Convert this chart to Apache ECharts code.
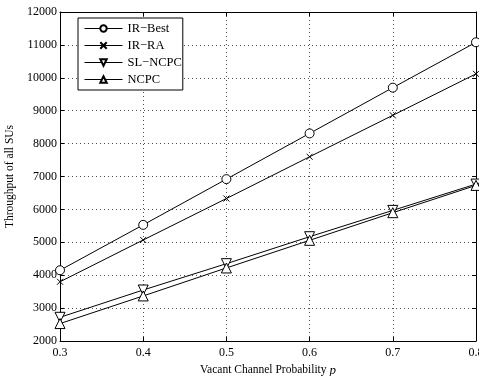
<!DOCTYPE html>
<html>
<head>
<meta charset="utf-8">
<script src="https://cdn.jsdelivr.net/npm/echarts@6/dist/echarts.min.js"></script>
<style>
  html, body { margin: 0; padding: 0; background: #fff; }
  #chart { width: 479px; height: 376px; }
</style>
</head>
<body>
<div id="chart"></div>
<script>
const probs = [0.3, 0.4, 0.5, 0.6, 0.7, 0.8];
const irBest = [4150, 5530, 6920, 8310, 9700, 11080];
const irRa = [3800, 5070, 6330, 7600, 8860, 10120];
const slNcpc = [2720, 3550, 4350, 5170, 5970, 6770];
const ncpc = [2530, 3370, 4220, 5060, 5900, 6730];

const chart = echarts.init(document.getElementById("chart"));
const font = "Liberation Serif";

const pairs = (ys) => probs.map((p, i) => [p, ys[i]]);

function makeSeries(name, ys, symbol, size) {
  return {
    name: name,
    type: "line",
    data: pairs(ys),
    symbol: symbol,
    symbolSize: size,
    showSymbol: true,
    clip: false,
    lineStyle: { color: "#000", width: 1 },
    itemStyle: { color: "#fff", borderColor: "#000", borderWidth: 1 },
    emphasis: { disabled: true },
    z: 3,
  };
}

const axisCommon = {
  type: "value",
  axisLine: { show: true, onZero: false, lineStyle: { color: "#000", width: 1 } },
  axisTick: { show: true, inside: true, length: 4, lineStyle: { color: "#000" } },
};

const gridDots = { show: true, lineStyle: { color: "#000", type: [1, 3], width: 1, opacity: 0.7 } };

const option = {
  animation: false,
  grid: { left: 60, right: 3, top: 12, bottom: 35, outerBoundsMode: "none", containLabel: false },
  legend: {
    orient: "vertical",
    left: 78,
    top: 18,
    itemWidth: 38,
    itemHeight: 8,
    itemGap: 4,
    padding: [4, 1, 4, 6],
    borderColor: "#000",
    borderWidth: 1,
    backgroundColor: "#fff",
    lineStyle: { width: 1 },
    textStyle: { fontFamily: font, fontSize: 12.5, color: "#000" },
    data: ["IR\u2212Best", "IR\u2212RA", "SL\u2212NCPC", "NCPC"],
  },
  xAxis: [
    Object.assign({}, axisCommon, {
      min: 0.3,
      max: 0.8,
      interval: 0.1,
      name: "Vacant Channel Probability {i|p}",
      nameLocation: "middle",
      nameGap: 20,
      nameTextStyle: {
        fontFamily: font, fontSize: 11.5, color: "#000",
        rich: { i: { fontFamily: font, fontSize: 13, fontStyle: "italic", color: "#000" } },
      },
      axisLabel: {
        color: "#000",
        fontFamily: font,
        fontSize: 12,
        margin: 6,
        hideOverlap: false,
        formatter: (v) => v.toFixed(1),
      },
      splitLine: gridDots,
    }),
    Object.assign({}, axisCommon, {
      position: "top",
      min: 0.3,
      max: 0.8,
      interval: 0.1,
      axisLabel: { show: false },
      splitLine: { show: false },
    }),
  ],
  yAxis: [
    Object.assign({}, axisCommon, {
      min: 2000,
      max: 12000,
      interval: 1000,
      name: "Throughput of all SUs",
      nameLocation: "middle",
      nameGap: 43,
      nameTextStyle: { fontFamily: font, fontSize: 11.5, color: "#000" },
      axisLabel: {
        color: "#000", fontFamily: font, fontSize: 12, margin: 3,
        formatter: (v) => String(v),
      },
      splitLine: gridDots,
    }),
    Object.assign({}, axisCommon, {
      position: "right",
      min: 2000,
      max: 12000,
      interval: 1000,
      axisLabel: { show: false },
      splitLine: { show: false },
    }),
  ],
  series: [
    makeSeries("IR\u2212Best", irBest, "circle", 9),
    makeSeries("IR\u2212RA", irRa, "path://M0,0L10,10M10,0L0,10", 6),
    makeSeries("SL\u2212NCPC", slNcpc, "path://M0,0L10,0L5,9Z", 10),
    makeSeries("NCPC", ncpc, "path://M5,0L10,9L0,9Z", 10),
  ],
};

chart.setOption(option);
</script>
</body>
</html>
